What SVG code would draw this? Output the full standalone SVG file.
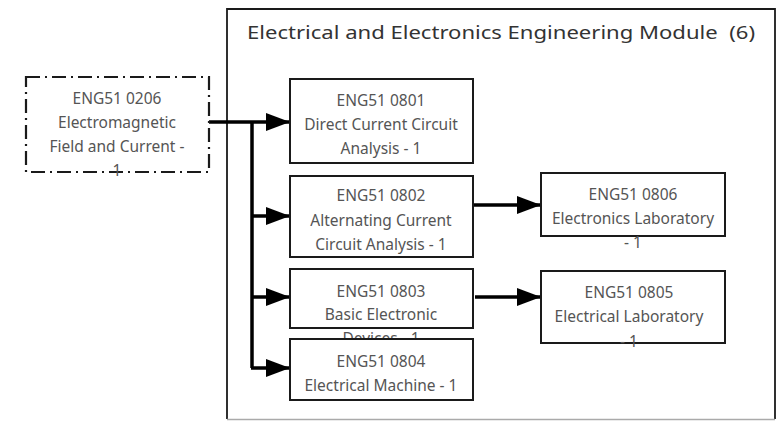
<svg xmlns="http://www.w3.org/2000/svg" width="777" height="421" viewBox="0 0 777 421">
<defs>
<style>
.box{fill:#fff;stroke:#1a1a1a;stroke-width:2}
.dash{fill:none;stroke:#1a1a1a;stroke-width:2.2;stroke-dasharray:14 5 2 5}
.t{font-family:"Noto Sans","DejaVu Sans",sans-serif;font-size:15.5px;fill:#555;text-anchor:middle}
.title{font-family:"Noto Sans","DejaVu Sans",sans-serif;font-size:18.5px;fill:#333}
.c{fill:none;stroke:#000;stroke-width:3.5}
</style>
<marker id="ah" markerUnits="userSpaceOnUse" markerWidth="24" markerHeight="20" refX="24" refY="10" orient="auto">
<path d="M0,1 L24,10 L0,19 Z" fill="#000"/>
</marker>
</defs>
<rect width="777" height="421" fill="#fff"/>
<g id="module">
<path d="M227,419 V9 H775 V419" fill="none" stroke="#1a1a1a" stroke-width="1.8"/>
<line x1="227" y1="419.5" x2="775" y2="419.5" stroke="#aaa" stroke-width="1.5"/>
<text class="title" x="247" y="39" textLength="508" lengthAdjust="spacingAndGlyphs" xml:space="preserve">Electrical and Electronics Engineering Module  (6)</text>
</g>
<g id="connectors">
<path class="c" d="M209,122 H290" marker-end="url(#ah)"/>
<path class="c" d="M252,122 V368"/>
<path class="c" d="M251,216 H290" marker-end="url(#ah)"/>
<path class="c" d="M251,297 H290" marker-end="url(#ah)"/>
<path class="c" d="M251,368 H290" marker-end="url(#ah)"/>
<path class="c" d="M473,205 H541" marker-end="url(#ah)"/>
<path class="c" d="M475,297 H541" marker-end="url(#ah)"/>
</g>
<g id="n0206">
<rect class="dash" x="26" y="77" width="183" height="95"/>
<text class="t" x="117" y="104">ENG51 0206</text>
<text class="t" x="117" y="128">Electromagnetic</text>
<text class="t" x="117" y="152">Field and Current -</text>
<text class="t" x="117" y="176">1</text>
</g>
<g id="n0801">
<rect class="box" x="290" y="79" width="183" height="84"/>
<text class="t" x="381" y="106">ENG51 0801</text>
<text class="t" x="381" y="130">Direct Current Circuit</text>
<text class="t" x="381" y="154">Analysis - 1</text>
</g>
<g id="n0802">
<rect class="box" x="290" y="176" width="183" height="81"/>
<text class="t" x="381" y="201">ENG51 0802</text>
<text class="t" x="381" y="226">Alternating Current</text>
<text class="t" x="381" y="250">Circuit Analysis - 1</text>
</g>
<g id="n0803">
<rect class="box" x="290" y="269" width="183" height="59"/>
<text class="t" x="381" y="297">ENG51 0803</text>
<text class="t" x="381" y="320">Basic Electronic</text>
<text class="t" x="381" y="344">Devices - 1</text>
</g>
<g id="n0804">
<rect class="box" x="290" y="339" width="183" height="61"/>
<text class="t" x="381" y="367">ENG51 0804</text>
<text class="t" x="381" y="391">Electrical Machine - 1</text>
</g>
<g id="n0806">
<rect class="box" x="541" y="173" width="184" height="63"/>
<text class="t" x="633" y="200">ENG51 0806</text>
<text class="t" x="633" y="224">Electronics Laboratory</text>
<text class="t" x="633" y="248">- 1</text>
</g>
<g id="n0805">
<rect class="box" x="541" y="271" width="184" height="72"/>
<text class="t" x="629" y="298">ENG51 0805</text>
<text class="t" x="629" y="322">Electrical Laboratory</text>
<text class="t" x="629" y="347">- 1</text>
</g>
</svg>
